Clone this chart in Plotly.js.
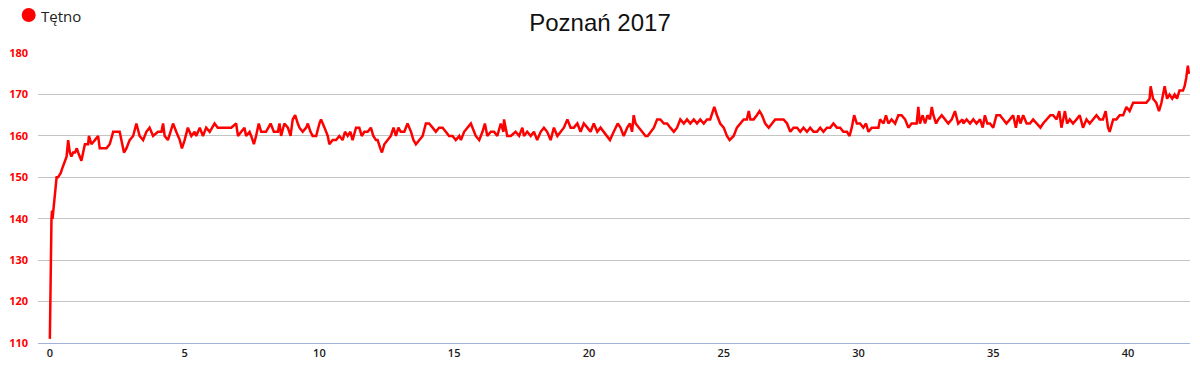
<!DOCTYPE html>
<html>
<head>
<meta charset="utf-8">
<script src="https://cdn.plot.ly/plotly-3.0.1.min.js"></script>
<style>html,body{margin:0;padding:0;background:#fff;}#chart{width:1200px;height:370px;}</style>
</head>
<body>
<div id="chart"></div>
<script>
// Distance (km) and heart rate (bpm)
var km = [
0.00,0.02,0.04,0.06,0.08,0.10,0.13,0.16,0.20,0.25,0.30,0.40,0.45,0.55,0.62,0.68,0.72,
0.74,0.80,0.86,0.93,1.00,1.05,1.17,1.30,1.42,1.45,1.54,1.67,1.79,1.85,1.91,2.10,2.22,2.35,2.47,2.59,2.75,2.84,2.96,
3.09,3.21,3.33,3.46,3.58,3.70,3.83,4.01,4.14,4.20,4.26,4.38,4.57,4.69,4.82,4.90,5.00,5.12,5.25,5.37,5.43,5.56,5.68,
5.80,5.93,6.11,6.23,6.36,6.54,6.73,6.91,6.98,7.10,7.22,7.28,7.41,7.47,7.57,7.65,7.75,7.84,8.02,8.19,8.31,
8.46,8.52,8.58,8.70,8.83,8.93,9.01,9.10,9.20,9.26,9.38,9.51,9.57,9.67,9.75,9.88,10.00,10.06,10.19,10.31,10.37,
10.49,10.62,10.74,10.86,10.95,11.05,11.15,11.23,11.36,11.48,11.57,11.67,11.79,11.91,12.00,12.10,12.16,12.26,12.32,
12.41,12.53,12.65,12.75,12.84,12.93,13.02,13.15,13.27,13.40,13.49,13.58,13.70,13.83,13.95,14.07,14.20,14.32,14.44,
14.57,14.69,14.81,14.94,15.06,15.19,15.25,15.37,15.49,15.62,15.74,15.80,15.93,16.05,16.14,16.23,16.36,16.48,16.60,16.73,16.83,
16.85,16.91,16.97,17.10,17.28,17.41,17.53,17.59,17.71,17.84,17.96,18.08,18.21,18.33,18.45,18.58,18.70,18.83,18.95,
19.07,19.20,19.32,19.44,19.57,19.69,19.81,19.94,20.06,20.18,20.31,20.43,20.55,20.68,20.78,20.92,21.07,21.17,21.29,
21.42,21.52,21.60,21.66,21.73,21.85,21.97,22.10,22.18,22.28,22.41,22.53,22.65,22.78,22.90,23.02,23.15,23.27,23.39,
23.52,23.64,23.76,23.89,24.01,24.13,24.26,24.38,24.50,24.65,24.75,24.87,25.00,25.12,25.22,25.34,
25.37,25.49,25.62,25.74,25.86,25.93,25.99,26.11,26.23,26.33,26.42,26.54,26.67,26.79,26.91,27.04,27.22,27.35,27.47,
27.59,27.72,27.84,27.96,28.09,28.21,28.33,28.46,28.58,28.70,28.83,28.95,29.07,29.20,29.32,29.44,29.57,29.67,29.75,
29.84,29.94,30.06,30.18,30.28,30.37,30.49,30.62,30.74,30.80,30.93,31.02,31.11,31.23,31.36,31.48,31.60,31.73,31.85,
31.97,32.10,32.16,32.22,32.28,32.38,32.47,32.56,32.65,32.72,32.78,32.88,32.96,33.09,33.21,33.33,33.46,33.58,33.70,33.86,
33.89,34.01,34.14,34.26,34.38,34.51,34.61,34.69,34.78,34.88,35.00,35.12,35.25,35.37,35.49,35.62,35.74,35.84,35.93,
36.01,36.11,36.24,36.36,36.48,36.61,36.75,36.85,36.98,37.12,37.22,37.35,37.45,37.53,37.66,37.74,37.84,37.96,38.09,
38.21,38.33,38.46,38.58,38.70,38.83,38.95,39.07,39.17,39.26,39.32,39.45,39.57,39.69,39.82,39.94,40.06,40.19,40.31,
40.43,40.56,40.68,40.80,40.84,40.93,41.05,41.15,41.24,41.30,41.36,41.45,41.54,41.64,41.73,41.82,41.91,42.04,42.10,
42.16,42.22,42.26
];
var hr = [
111,125,136,140,142,140,142,144,147,150,150,151,152,154,155,159,156,
156,155,156,156,157,156,154,158,158,160,158,159,160,157,157,157,158,161,161,161,156,157,159,
160,163,160,159,161,162,160,161,161,163,160,159,163,161,159,157,159,162,160,161,160,162,160,
162,161,163,162,162,162,162,163,160,161,162,160,161,160,158,160,163,161,161,163,161,
161,163,160,163,162,160,164,165,163,162,161,162,163,161,160,160,163,164,162,160,158,
159,159,160,159,161,160,161,159,162,162,160,161,161,162,160,159,159,157,156,
158,159,160,162,160,162,161,161,163,161,159,158,159,160,163,163,162,161,162,
162,161,160,160,159,160,159,161,162,163,161,160,159,161,163,160,161,161,160,163,161,
164,162,160,160,161,160,162,160,161,160,161,159,161,162,161,159,162,160,161,
162,164,162,162,163,161,163,162,161,163,161,162,161,160,159,161,163,162,160,
162,163,161,165,163,162,161,160,160,161,162,164,164,163,163,162,161,162,164,
163,164,163,164,163,164,163,164,164,167,165,163,162,160,159,160,
160,162,163,164,164,166,164,164,165,166,165,163,162,163,164,164,164,163,161,
162,162,161,162,161,162,161,161,162,161,162,162,163,162,162,161,161,160,162,
165,163,163,162,163,161,162,162,162,164,163,165,163,164,163,165,165,164,162,
163,163,163,167,163,165,163,165,164,167,165,163,164,165,164,163,164,166,163,164,
163,164,163,164,163,164,162,165,163,163,162,165,165,164,163,164,165,162,165,
163,165,163,163,164,163,162,163,164,165,165,164,166,162,166,163,164,163,164,
165,162,164,163,164,165,164,164,166,162,161,164,164,165,165,167,166,168,168,
168,168,168,169,172,169,168,166,168,170,172,169,170,169,170,169,171,171,172,
174,177,175
];
var seriesName = 'Tętno';
var chartTitle = 'Poznań 2017';
var yTicks = [110,120,130,140,150,160,170,180];
var xTicks = [0,5,10,15,20,25,30,35,40];

var trace = {
  x: km, y: hr, type: 'scatter', mode: 'lines', name: seriesName,
  line: {color: '#ff0000', width: 2.5}, showlegend: false, hoverinfo: 'skip'
};

var layout = {
  width: 1200, height: 370,
  margin: {l: 38, r: 10, t: 53, b: 27, pad: 0},
  paper_bgcolor: '#ffffff', plot_bgcolor: '#ffffff',
  title: {text: chartTitle, x: 0.5, xref: 'container', y: 0.94, yref: 'container', yanchor: 'middle',
          font: {family: 'Liberation Sans, Arial, sans-serif', size: 24, color: '#111111'}},
  showlegend: false,
  xaxis: {
    range: [-0.44, 42.3], tickvals: xTicks, ticktext: xTicks.map(String),
    showgrid: false, zeroline: false, showline: true, linecolor: '#a3b2d9', linewidth: 1,
    ticks: '', tickfont: {family: 'Open Sans, sans-serif', size: 11, color: '#1a1a1a', weight: 600}
  },
  yaxis: {
    range: [110, 180.03], tickvals: yTicks, ticktext: yTicks.map(String),
    showgrid: true, gridcolor: '#c4c4c4', gridwidth: 1, zeroline: false, showline: false,
    ticks: '', ticklabelstandoff: 9,
    tickfont: {family: 'Open Sans, sans-serif', size: 11, color: '#ff0000', weight: 700}
  },
  shapes: [{
    type: 'circle', xref: 'paper', yref: 'paper', xsizemode: 'pixel', ysizemode: 'pixel',
    xanchor: -0.0081, yanchor: 1.131, x0: -7, x1: 7, y0: -7, y1: 7,
    fillcolor: '#ff0000', line: {width: 0}
  }],
  annotations: [{
    text: seriesName, xref: 'paper', yref: 'paper', x: 0.001, y: 1.1276,
    xanchor: 'left', yanchor: 'middle', showarrow: false,
    font: {family: 'Open Sans, sans-serif', size: 15, color: '#222222'}
  }]
};

Plotly.newPlot('chart', [trace], layout, {displayModeBar: false, staticPlot: true});
</script>
</body>
</html>
